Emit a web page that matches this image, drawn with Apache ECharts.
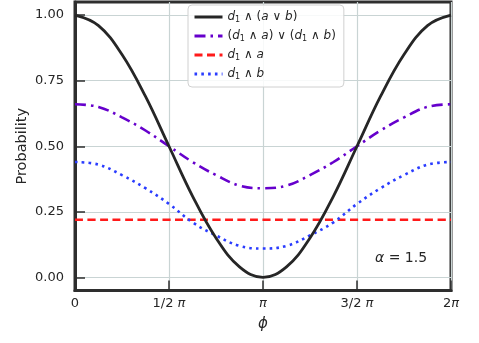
<!DOCTYPE html>
<html>
  <head>
    <title>Probability vs phi</title>
    <meta charset="utf-8" />
    <script src="https://cdn.jsdelivr.net/npm/echarts@6/dist/echarts.min.js"></script>
    <style>
      body { margin: 0; background: #fff; }
    </style>
  </head>
  <body>
    <div id="main" style="width: 479px;height:343px;"></div>
    <script type="text/javascript">
    // phi in units of pi, sampled every pi/8
    var phi = [0, 0.125, 0.25, 0.375, 0.5, 0.625, 0.75, 0.875, 1,
               1.125, 1.25, 1.375, 1.5, 1.625, 1.75, 1.875, 2];
    // values
    var dAorB   = [1.00, 0.96, 0.85, 0.69, 0.50, 0.31, 0.15, 0.04, 0.00,
                   0.04, 0.15, 0.31, 0.50, 0.69, 0.85, 0.96, 1.00];
    var dAorDB  = [0.66, 0.65, 0.61, 0.56, 0.50, 0.44, 0.39, 0.35, 0.34,
                   0.35, 0.39, 0.44, 0.50, 0.56, 0.61, 0.65, 0.66];
    var dA      = [0.22, 0.22, 0.22, 0.22, 0.22, 0.22, 0.22, 0.22, 0.22,
                   0.22, 0.22, 0.22, 0.22, 0.22, 0.22, 0.22, 0.22];
    var dB      = [0.44, 0.43, 0.39, 0.34, 0.28, 0.21, 0.16, 0.12, 0.11,
                   0.12, 0.16, 0.21, 0.28, 0.34, 0.39, 0.43, 0.44];

    var xTicks = [0, 0.5, 1, 1.5, 2];
    var xTickLabels = ['{n|0}', '{n|1/2 }{i|π}', '{i|π}', '{n|3/2 }{i|π}', '{n|2}{i|π}'];
    var yTicks = [0, 0.25, 0.5, 0.75, 1];

    var names = ['d1∧(a∨b)', '(d1∧a)∨(d1∧b)', 'd1∧a', 'd1∧b'];
    var legendRich = {
      'd1∧(a∨b)': '{i|d}{s|1}{n| ∧ (}{i|a}{n| ∨ }{i|b}{n|)}',
      '(d1∧a)∨(d1∧b)': '{n|(}{i|d}{s|1}{n| ∧ }{i|a}{n|) ∨ (}{i|d}{s|1}{n| ∧ }{i|b}{n|)}',
      'd1∧a': '{i|d}{s|1}{n| ∧ }{i|a}',
      'd1∧b': '{i|d}{s|1}{n| ∧ }{i|b}'
    };

    function pairs(ys) {
      var out = [];
      for (var i = 0; i < phi.length; i++) out.push([phi[i], ys[i]]);
      return out;
    }

    var font = 'DejaVu Sans';
    var textCol = '#262626';
    var gridCol = '#c9d4d4';
    var frameCol = '#2e2e2e';

    var myChart = echarts.init(document.getElementById('main'));

    var option = {
      animation: false,
      textStyle: { fontFamily: font },
      grid: {
        left: 75, right: 28, top: 2, bottom: 52.5,
        show: true, borderColor: frameCol, borderWidth: 3
      },
      legend: {
        orient: 'vertical',
        left: 188, top: 5,
        padding: [6, 8, 6, 5],
        itemWidth: 28, itemHeight: 14, itemGap: 6,
        backgroundColor: 'rgba(255,255,255,0.85)',
        borderColor: '#d0d0d0', borderWidth: 1, borderRadius: 4,
        selectedMode: false,
        itemStyle: { opacity: 0 },
        lineStyle: { width: 3 },
        data: names,
        formatter: function (name) { return legendRich[name]; },
        textStyle: {
          fontFamily: font, color: textCol, fontSize: 12,
          rich: {
            i: { fontStyle: 'italic', fontSize: 12, fontFamily: font, color: textCol },
            n: { fontSize: 12, fontFamily: font, color: textCol },
            s: { fontSize: 8, fontFamily: font, color: textCol, padding: [6, 0, 0, 0] }
          }
        }
      },
      xAxis: {
        type: 'value', min: 0, max: 2, interval: 0.5,
        name: 'ϕ', nameLocation: 'middle', nameGap: 26,
        nameTextStyle: { fontStyle: 'italic', fontSize: 15, color: textCol, fontFamily: font },
        axisLine: { show: true, onZero: false, lineStyle: { color: frameCol, width: 3 } },
        axisTick: { show: true, inside: true, length: 10, lineStyle: { color: frameCol, width: 1.5 } },
        axisLabel: {
          margin: 7, fontSize: 13, color: textCol, fontFamily: font,
          rich: {
            n: { fontSize: 13, fontFamily: font, color: textCol },
            i: { fontSize: 13, fontFamily: font, color: textCol, fontStyle: 'italic' }
          },
          formatter: function (v) {
            var k = xTicks.indexOf(v);
            return k >= 0 ? xTickLabels[k] : '';
          }
        },
        splitLine: { show: true, lineStyle: { color: gridCol, width: 1.2 } }
      },
      yAxis: {
        type: 'value', min: -0.05, max: 1.05,
        name: 'Probability', nameLocation: 'middle', nameGap: 45,
        nameMoveOverlap: false,
        nameTextStyle: { fontSize: 14.5, color: textCol, fontFamily: font },
        axisLine: { show: true, onZero: false, lineStyle: { color: frameCol, width: 3 } },
        axisTick: { show: true, inside: true, length: 10, customValues: yTicks,
                    lineStyle: { color: frameCol, width: 1.5 } },
        axisLabel: {
          margin: 11, fontSize: 13, color: textCol, fontFamily: font,
          customValues: yTicks,
          formatter: function (v) { return v.toFixed(2); }
        },
        splitLine: { show: true, customValues: yTicks, lineStyle: { color: gridCol, width: 1.2 } }
      },
      graphic: [{
        type: 'text', left: 375, top: 251, z: 100,
        style: {
          text: '{i|α}{n| = 1.5}',
          rich: {
            i: { fontStyle: 'italic', fontSize: 14, fontFamily: font, fill: textCol },
            n: { fontSize: 14, fontFamily: font, fill: textCol }
          }
        }
      }],
      series: [
        {
          name: names[0], type: 'line', data: pairs(dAorB), smooth: 0.4,
          symbol: 'none', z: 4,
          lineStyle: { color: '#262626', width: 2.8 }, itemStyle: { color: '#262626' }
        },
        {
          name: names[1], type: 'line', data: pairs(dAorDB), smooth: 0.4,
          symbol: 'none', z: 3,
          lineStyle: { color: '#6600cc', width: 2.6, type: [11, 5, 2.5, 5] }, itemStyle: { color: '#6600cc' }
        },
        {
          name: names[2], type: 'line', data: pairs(dA), smooth: 0.4,
          symbol: 'none', z: 2,
          lineStyle: { color: '#ff1a1a', width: 2.6, type: [8, 4.5] }, itemStyle: { color: '#ff1a1a' }
        },
        {
          name: names[3], type: 'line', data: pairs(dB), smooth: 0.4,
          symbol: 'none', z: 2,
          lineStyle: { color: '#2a3cff', width: 2.6, type: [2.6, 4.2] }, itemStyle: { color: '#2a3cff' }
        }
      ]
    };

    myChart.setOption(option);
    </script>
  </body>
</html>
